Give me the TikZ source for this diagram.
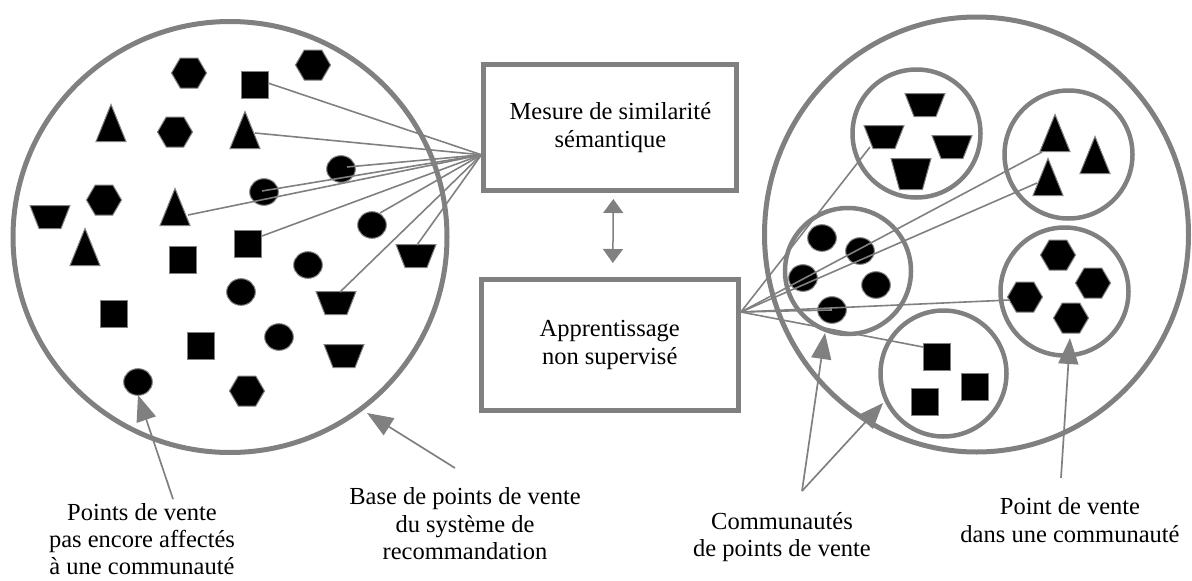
\documentclass[tikz,border=0pt]{standalone}
\usepackage{fontspec}
\setmainfont{Liberation Serif}
\usetikzlibrary{arrows.meta}
\definecolor{gr}{RGB}{128,128,128}
\tikzset{
  shp/.style={fill=black, draw=gr, line width=1pt},
  conn/.style={draw=gr, line width=1.6pt},
  ann/.style={draw=gr, line width=1.7pt, -{Triangle[length=26pt,width=20pt]}},
  bigc/.style={draw=gr, line width=5pt},
  smallc/.style={draw=gr, line width=4.5pt},
  boxnode/.style={draw=gr, line width=5pt, rectangle, inner sep=0pt, align=center, font=\fontsize{24.5}{28}\selectfont},
  lbl/.style={align=center, inner sep=0pt, font=\fontsize{24.5}{27.5}\selectfont},
  pics/hexa/.style={code={\coordinate (-c) at (0,0);
    \filldraw[shp] (-17.5,0)--(-8.75,-15)--(8.75,-15)--(17.5,0)--(8.75,15)--(-8.75,15)--cycle;}},
  pics/squa/.style={code={\coordinate (-c) at (0,0);
    \filldraw[shp] (-13.5,-13.5) rectangle (13.5,13.5);}},
  pics/tria/.style={code={\coordinate (-c) at (0,0);
    \filldraw[shp] (-15,18.5)--(15,18.5)--(0,-18.5)--cycle;}},
  pics/circ/.style={code={\coordinate (-c) at (0,0);
    \filldraw[shp] (0,0) ellipse [x radius=14.3pt, y radius=13.3pt];}},
  pics/trap/.style={code={\coordinate (-c) at (0,0);
    \filldraw[shp] (-20,-11.5)--(20,-11.5)--(11,11.5)--(-11,11.5)--cycle;}},
  pics/trapb/.style={code={\coordinate (-c) at (0,0);
    \filldraw[shp] (-20,-15.5)--(20,-15.5)--(11.5,15.5)--(-11.5,15.5)--cycle;}},
}
\begin{document}
\begin{tikzpicture}[x=1pt,y=-1pt]
\useasboundingbox (0,0) rectangle (1192,581);

% big circles
\draw[bigc] (230,237) ellipse [x radius=217pt, y radius=215.5pt];
\draw[bigc] (976.5,234.5) ellipse [x radius=212pt, y radius=217.5pt];
% clusters
\draw[smallc] (916.5,133.5) circle [radius=64pt];
\draw[smallc] (1068.5,154.5) circle [radius=64pt];
\draw[smallc] (848,271) circle [radius=63pt];
\draw[smallc] (1064.5,291.5) circle [radius=64pt];
\draw[smallc] (943.5,373.5) circle [radius=63pt];

% boxes
\node[boxnode, minimum width=253pt, minimum height=126pt] (mesure) at (610.4,127.8) {Mesure de similarité\\sémantique};
\node[boxnode, minimum width=257.4pt, minimum height=131pt] (app) at (609.7,345) {Apprentissage\\non supervisé};
\draw[conn, line width=1.5pt, {Triangle[length=14pt,width=20pt]}-{Triangle[length=14pt,width=20pt]}, shorten <=5.7pt, shorten >=14pt]
  ([xshift=3pt]mesure.south) -- ([xshift=3pt]app.north);

% left shapes
\pic (lh1) at (189,73) {hexa};
\pic (lh2) at (313,65) {hexa};
\pic (lh3) at (175,132) {hexa};
\pic (lh4) at (104,200) {hexa};
\pic (lh5) at (247,391) {hexa};
\pic (ls1) at (255,85) {squa};
\pic (ls2) at (248,244) {squa};
\pic (ls3) at (183,260) {squa};
\pic (ls4) at (114,314) {squa};
\pic (ls5) at (201,346) {squa};
\pic (lt1) at (111,123) {tria};
\pic (lt2) at (245,130) {tria};
\pic (lt3) at (175,207) {tria};
\pic (lt4) at (85,247) {tria};
\pic (lc1) at (341,169) {circ};
\pic (lc2) at (264,192) {circ};
\pic (lc3) at (372,225) {circ};
\pic (lc4) at (308,265) {circ};
\pic (lc5) at (241,292) {circ};
\pic (lc6) at (279,337) {circ};
\pic (lc7) at (138,382) {circ};
\pic (lz1) at (50,217) {trap};
\pic (lz2) at (416,256) {trap};
\pic (lz3) at (336,303) {trap};
\pic (lz4) at (344,356) {trap};

% right shapes
\pic (rz1) at (925,105) {trap};
\pic (rz2) at (884,137) {trap};
\pic (rz3) at (952,147) {trap};
\pic (rz4) at (911,174) {trapb};
\pic (rt1) at (1055,133) {tria};
\pic (rt2) at (1095,155) {tria};
\pic (rt3) at (1048,177) {tria};
\pic (rc1) at (822,238) {circ};
\pic (rc2) at (860,251) {circ};
\pic (rc3) at (803,278) {circ};
\pic (rc4) at (876,285) {circ};
\pic (rc5) at (832,310) {circ};
\pic (rh1) at (1058,255) {hexa};
\pic (rh2) at (1093,283) {hexa};
\pic (rh3) at (1025,297) {hexa};
\pic (rh4) at (1071,318) {hexa};
\pic (rs1) at (937,357) {squa};
\pic (rs2) at (975,387) {squa};
\pic (rs3) at (925,402) {squa};

% hubs
\coordinate (lhub) at ([yshift=-27pt]mesure.west);
\coordinate (rhub) at ([yshift=33pt]app.east);

% left connectors
\draw[conn] (lhub) -- ([shift={(13,-2)}]ls1-c);
\draw[conn] (lhub) -- ([shift={(10,3)}]lt2-c);
\draw[conn] (lhub) -- ([shift={(6,-2)}]lc1-c);
\draw[conn] (lhub) -- ([shift={(-2,-1)}]lc2-c);
\draw[conn] (lhub) -- ([shift={(13,8)}]lt3-c);
\draw[conn] (lhub) -- ([shift={(14,-8)}]ls2-c);
\draw[conn] (lhub) -- ([shift={(8,-12)}]lc3-c);
\draw[conn] (lhub) -- ([shift={(4,-11)}]lz3-c);
\draw[conn] (lhub) -- ([shift={(1,-11)}]lz2-c);

% right connectors
\draw[conn] (rhub) -- ([shift={(-14,10)}]rz2-c);
\draw[conn] (rhub) -- ([shift={(-13,19)}]rt1-c);
\draw[conn] (rhub) -- ([shift={(-11,6)}]rt3-c);
\draw[conn] (rhub) -- (rc5-c);
\draw[conn] (rhub) -- ([shift={(-15,3)}]rh3-c);
\draw[conn] (rhub) -- ([shift={(-14,-10)}]rs1-c);

% labels
\node[lbl, anchor=south, font=\fontsize{24.5}{27}\selectfont] (lab1) at (142,575) {Points de vente\\pas encore affectés\\à une communauté};
\node[lbl] (lab2) at (465,524) {Base de points de vente\\du système de\\recommandation};
\node[lbl] (lab3) at (782,537) {Communautés\\de points de vente};
\node[lbl] (lab4) at (1070,520) {Point de vente\\dans une communauté};

% annotation tails and tips
\coordinate (t1) at (173,499);
\coordinate (t2) at (455,468);
\coordinate (t3) at (802,491);
\coordinate (t4) at (1061,478);
\coordinate (bigL) at (367,413);
\coordinate (clC) at (825,333);
\coordinate (clS) at (883,403);
\coordinate (clH) at (1070,338);

\draw[ann] (t1) -- ([shift={(0,13)}]lc7-c);
\draw[ann] (t2) -- (bigL);
\draw[ann] (t3) -- (clC);
\draw[ann] (t3) -- (clS);
\draw[ann] (t4) -- (clH);
\end{tikzpicture}
\end{document}
